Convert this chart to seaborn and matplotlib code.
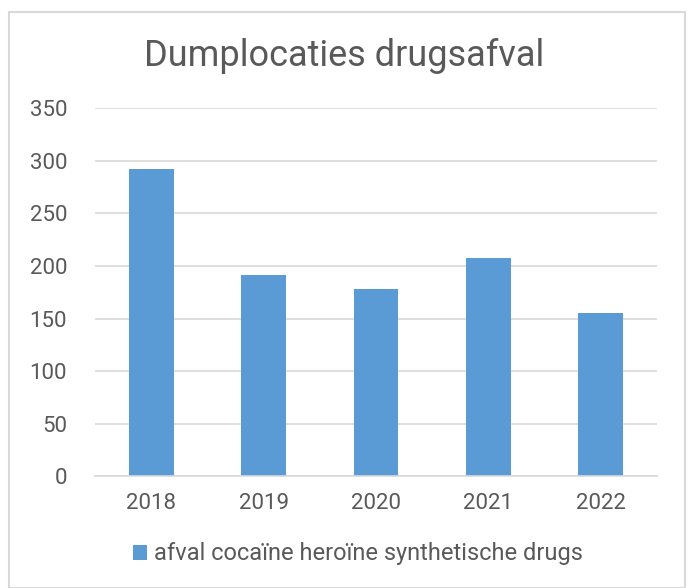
import numpy as np
import pandas as pd
import seaborn as sns
import matplotlib.pyplot as plt
from matplotlib.patches import Rectangle

# dumplocaties drugsafval per jaar
jaren = ["2018", "2019", "2020", "2021", "2022"]
aantallen = [292, 191, 178, 208, 155]
reeks = "afval cocaïne heroïne synthetische drugs"

df = pd.DataFrame({"jaar": jaren, "aantal": aantallen, "reeks": reeks})

sns.set_style("white")
plt.rcParams["font.family"] = ["Roboto", "DejaVu Sans"]
tekst = "#595959"
raster = "#d9d9d9"

fig = plt.figure(figsize=(6.88, 5.88), dpi=100)
ax = fig.add_axes([0.138, 0.19, 0.817, 0.626])

sns.barplot(data=df, x="jaar", y="aantal", hue="reeks", palette=["#5b9bd5"],
            width=0.4, saturation=1, linewidth=0, ax=ax, legend=True)

ax.set_ylim(0, 350)
ax.set_yticks(np.arange(0, 351, 50))
ax.yaxis.grid(True, color=raster, linewidth=1.2)
ax.set_axisbelow(True)
ax.set_xlim(-0.5, len(jaren) - 0.5)
ax.set_xlabel("")
ax.set_ylabel("")

for s in ["top", "right", "left"]:
    ax.spines[s].set_visible(False)
ax.spines["bottom"].set_color(raster)
ax.spines["bottom"].set_linewidth(1.2)

ax.set_xticks(np.arange(-0.5, len(jaren)), minor=True)
ax.tick_params(axis="x", which="minor", length=7, color=raster, width=1.2)
ax.tick_params(axis="x", which="major", length=0, labelsize=16, labelcolor=tekst, pad=12)
ax.tick_params(axis="y", length=0, labelsize=16, labelcolor=tekst, pad=20)

fig.text(0.5, 0.905, "Dumplocaties drugsafval", ha="center", va="center",
         fontsize=26, color=tekst)

leg = ax.legend(loc="center", frameon=False, fontsize=17, handlelength=0.6,
                handleheight=0.6, handletextpad=0.3)
leg.set_bbox_to_anchor((0.52, 0.058), transform=fig.transFigure)
for t in leg.get_texts():
    t.set_color(tekst)

fig.patches.append(Rectangle((0.013, 0.0), 0.983, 0.98, transform=fig.transFigure,
                             fill=False, edgecolor=raster, linewidth=1.5))

fig.savefig("out.png", dpi=100, facecolor="white")
